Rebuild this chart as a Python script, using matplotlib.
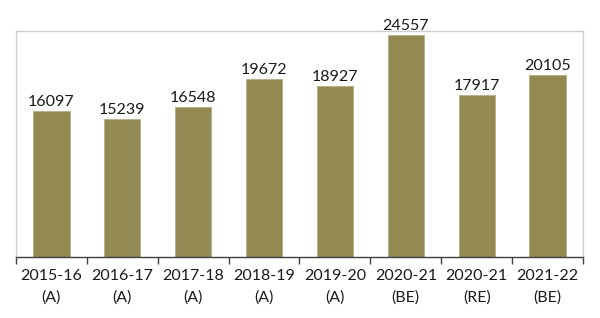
import matplotlib.pyplot as plt

# Chart data
years = ['2015-16\n(A)', '2016-17\n(A)', '2017-18\n(A)', '2018-19\n(A)',
         '2019-20\n(A)', '2020-21\n(BE)', '2020-21\n(RE)', '2021-22\n(BE)']
values = [16097, 15239, 16548, 19672, 18927, 24557, 17917, 20105]

barColor = '#938953'

plt.rcParams['font.family'] = ['Lato', 'DejaVu Sans']

fig = plt.figure(figsize=(6, 3.18), dpi=100)
ax = fig.add_axes([16 / 600, 1 - 257 / 318, 567 / 600, 226 / 318])

positions = range(len(values))
bars = ax.bar(positions, values, width=0.51, color=barColor,
              edgecolor='#b5ae85', linewidth=0.6)

# Value labels on top of bars
for pos, val in zip(positions, values):
    ax.text(pos, val + 250, str(val), ha='center', va='bottom',
            fontsize=11.5, color='#1a1a1a')

ax.set_xlim(-0.5, len(values) - 0.5)
ax.set_ylim(0, 25000)
ax.set_yticks([])

ax.set_xticks(positions)
ax.set_xticklabels(years, fontsize=11.5, color='#1a1a1a', linespacing=1.65)
ax.tick_params(axis='x', length=0, pad=9)

# Tick marks between categories
ax.set_xticks([p - 0.5 for p in range(len(values) + 1)], minor=True)
ax.tick_params(axis='x', which='minor', length=5, width=1, color='#404040')

for side in ['top', 'left', 'right']:
    ax.spines[side].set_color('#d0d0d0')
    ax.spines[side].set_linewidth(1)
ax.spines['bottom'].set_color('#404040')
ax.spines['bottom'].set_linewidth(1)

fig.savefig('out.png', dpi=100)
